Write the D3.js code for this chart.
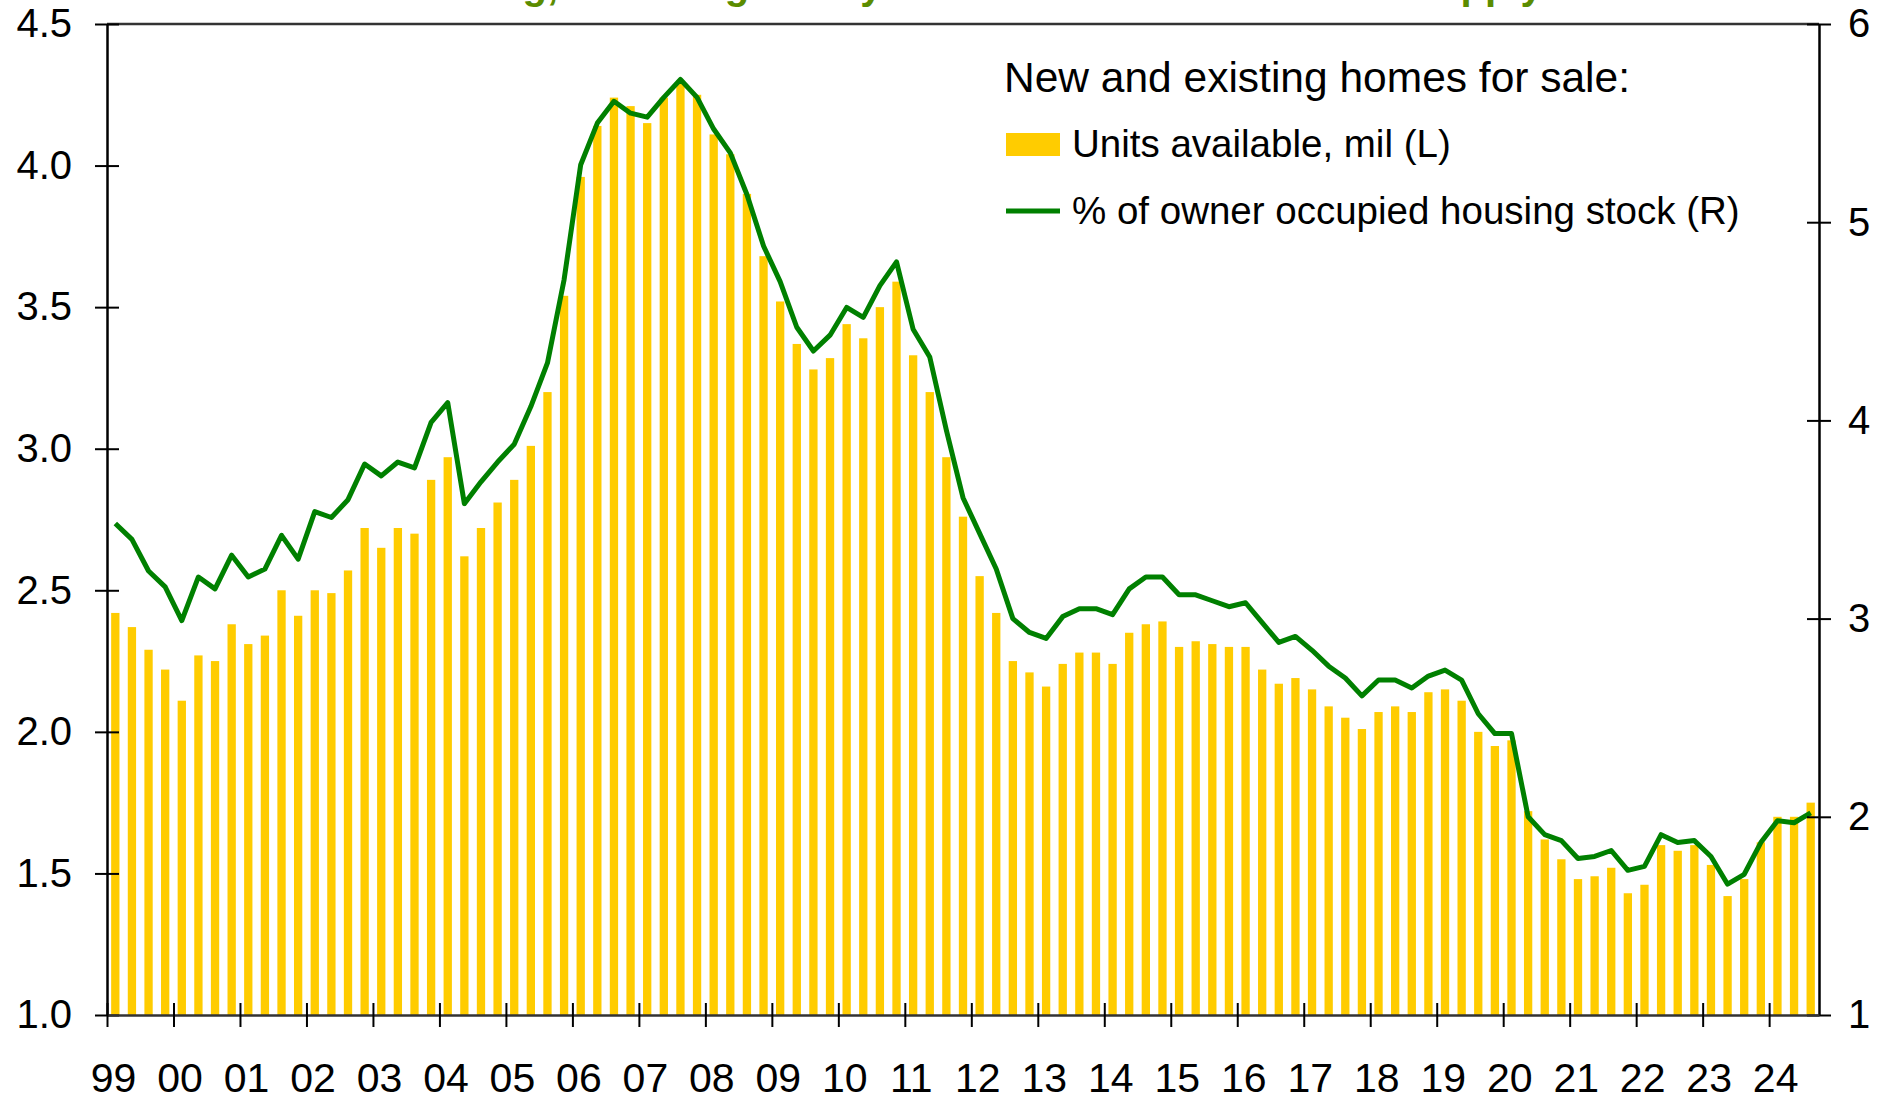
<!DOCTYPE html>
<html>
<head>
<meta charset="utf-8">
<script src="https://cdn.jsdelivr.net/npm/d3@7/dist/d3.min.js"></script>
<style>
  body { margin: 0; background: #fff; }
  text { font-family: "Liberation Sans", Arial, sans-serif; }
</style>
</head>
<body>
<div id="chart"></div>
<script>
// quarterly, 1999Q1 .. 2024Q3
var firstYear = 1999;
var yearLabels = ["99","00","01","02","03","04","05","06","07","08","09","10","11","12",
                  "13","14","15","16","17","18","19","20","21","22","23","24"];

// units available, mil (left axis)
var units = [
  2.42, 2.37, 2.29, 2.22, 2.11, 2.27, 2.25, 2.38, 2.31, 2.34, 2.50, 2.41, 2.50,
  2.49, 2.57, 2.72, 2.65, 2.72, 2.70, 2.89, 2.97, 2.62, 2.72, 2.81, 2.89, 3.01,
  3.20, 3.54, 3.96, 4.14, 4.24, 4.21, 4.15, 4.24, 4.30, 4.25, 4.11, 4.04, 3.90,
  3.68, 3.52, 3.37, 3.28, 3.32, 3.44, 3.39, 3.50, 3.59, 3.33, 3.20, 2.97, 2.76,
  2.55, 2.42, 2.25, 2.21, 2.16, 2.24, 2.28, 2.28, 2.24, 2.35, 2.38, 2.39, 2.30,
  2.32, 2.31, 2.30, 2.30, 2.22, 2.17, 2.19, 2.15, 2.09, 2.05, 2.01, 2.07, 2.09,
  2.07, 2.14, 2.15, 2.11, 2.00, 1.95, 1.97, 1.72, 1.62, 1.55, 1.48, 1.49, 1.52,
  1.43, 1.46, 1.60, 1.58, 1.60, 1.53, 1.42, 1.48, 1.61, 1.70, 1.70, 1.75
];

// % of owner occupied housing stock (right axis)
var share = [
  3.48, 3.40, 3.24, 3.16, 2.99, 3.21, 3.15, 3.32, 3.21, 3.25, 3.42, 3.30, 3.54,
  3.51, 3.60, 3.78, 3.72, 3.79, 3.76, 3.99, 4.09, 3.58, 3.69, 3.79, 3.88, 4.07,
  4.29, 4.71, 5.29, 5.50, 5.61, 5.55, 5.53, 5.63, 5.72, 5.63, 5.47, 5.35, 5.14,
  4.88, 4.70, 4.47, 4.35, 4.43, 4.57, 4.52, 4.68, 4.80, 4.46, 4.32, 3.95, 3.61,
  3.43, 3.25, 3.00, 2.93, 2.90, 3.01, 3.05, 3.05, 3.02, 3.15, 3.21, 3.21, 3.12,
  3.12, 3.09, 3.06, 3.08, 2.98, 2.88, 2.91, 2.84, 2.76, 2.70, 2.61, 2.69, 2.69,
  2.65, 2.71, 2.74, 2.69, 2.52, 2.42, 2.42, 2.00, 1.91, 1.88, 1.79, 1.80, 1.83,
  1.73, 1.75, 1.91, 1.87, 1.88, 1.80, 1.66, 1.71, 1.87, 1.98, 1.97, 2.02
];

var leftTicks = [1.0, 1.5, 2.0, 2.5, 3.0, 3.5, 4.0, 4.5];
var rightTicks = [1, 2, 3, 4, 5, 6];

var titleText = "Housing, shrinking slowly amid the lack of new home supply";
var legendTitle = "New and existing homes for sale:";
var legendLabels = ["Units available, mil (L)", "% of owner occupied housing stock (R)"];

var barColor = "#ffcc00",
    lineColor = "#008000";

var width = 1883, height = 1094;
var margin = {top: 24, right: 64, bottom: 79, left: 107};
var plotW = width - margin.left - margin.right,
    plotH = height - margin.top - margin.bottom;

var svg = d3.select("#chart").append("svg")
    .attr("width", width)
    .attr("height", height);

// title, mostly cut off above the picture (only descenders show)
svg.append("text")
    .attr("x", 387)
    .attr("y", -1)
    .attr("font-size", 40)
    .attr("font-weight", "bold")
    .attr("fill", "#5b8c00")
    .text(titleText);

var g = svg.append("g")
    .attr("transform", "translate(" + margin.left + "," + margin.top + ")");

// scales
var x = d3.scaleBand()
    .domain(d3.range(units.length))
    .range([0, plotW])
    .paddingInner(0.5)
    .paddingOuter(0.25);

var xYear = d3.scaleLinear()
    .domain([firstYear, firstYear + units.length / 4])
    .range([0, plotW]);

var yLeft = d3.scaleLinear().domain([1, 4.5]).range([plotH, 0]);
var yRight = d3.scaleLinear().domain([1, 6]).range([plotH, 0]);

// bars
g.selectAll("rect.bar")
    .data(units)
    .enter()
    .append("rect")
    .attr("class", "bar")
    .attr("x", function(d, i) { return x(i); })
    .attr("width", x.bandwidth())
    .attr("y", function(d) { return yLeft(d); })
    .attr("height", function(d) { return plotH - yLeft(d); })
    .attr("fill", barColor);

// line
var line = d3.line()
    .x(function(d, i) { return x(i) + x.bandwidth() / 2; })
    .y(function(d) { return yRight(d); });

g.append("path")
    .datum(share)
    .attr("d", line)
    .attr("fill", "none")
    .attr("stroke", lineColor)
    .attr("stroke-width", 5)
    .attr("stroke-linejoin", "round");

// top frame line
g.append("line")
    .attr("x1", 0).attr("x2", plotW)
    .attr("y1", 0).attr("y2", 0)
    .attr("stroke", "#333")
    .attr("stroke-width", 2.5);

// axes
var tickLen = 12;

var leftAxis = d3.axisLeft(yLeft)
    .tickValues(leftTicks)
    .tickFormat(d3.format(".1f"))
    .tickSizeInner(tickLen)
    .tickSizeOuter(0)
    .tickPadding(23);

var rightAxis = d3.axisRight(yRight)
    .tickValues(rightTicks)
    .tickFormat(d3.format("d"))
    .tickSizeInner(tickLen)
    .tickSizeOuter(0)
    .tickPadding(17);

var bottomAxis = d3.axisBottom(xYear)
    .tickValues(d3.range(firstYear, firstYear + yearLabels.length))
    .tickFormat(function(d, i) { return yearLabels[i]; })
    .tickSizeInner(tickLen)
    .tickSizeOuter(0)
    .tickPadding(36);

var gl = g.append("g").call(leftAxis);
gl.selectAll(".tick line").attr("x1", tickLen);

var gr = g.append("g").attr("transform", "translate(" + plotW + ",0)").call(rightAxis);
gr.selectAll(".tick line").attr("x1", -tickLen);

var gb = g.append("g").attr("transform", "translate(0," + plotH + ")").call(bottomAxis);
gb.selectAll(".tick line").attr("y1", -tickLen);

[gl, gr, gb].forEach(function(ax) {
    ax.selectAll("text")
        .attr("font-size", 40)
        .attr("font-family", "'Liberation Sans', Arial, sans-serif")
        .attr("fill", "#000");
    ax.selectAll(".tick line").attr("stroke", "#000").attr("stroke-width", 2);
    ax.select(".domain").attr("stroke", "#000").attr("stroke-width", 2.5);
});
gb.select(".domain").attr("stroke", "#333");
gb.selectAll(".tick text").attr("dx", 6).attr("font-size", 41);

// legend
var legend = svg.append("g").attr("transform", "translate(1004,0)");

legend.append("text")
    .attr("x", 0)
    .attr("y", 77)
    .attr("dy", "0.35em")
    .attr("font-size", 42.5)
    .text(legendTitle);

var items = legend.selectAll("g.item")
    .data(legendLabels)
    .enter()
    .append("g")
    .attr("class", "item")
    .attr("transform", function(d, i) { return "translate(0," + (144 + i * 67) + ")"; });

items.each(function(d, i) {
    var it = d3.select(this);
    if (i === 0) {
        it.append("rect")
            .attr("x", 2).attr("y", -11)
            .attr("width", 54).attr("height", 23)
            .attr("fill", barColor);
    } else {
        it.append("line")
            .attr("x1", 2).attr("x2", 56)
            .attr("y1", 0).attr("y2", 0)
            .attr("stroke", lineColor)
            .attr("stroke-width", 5);
    }
});

items.append("text")
    .attr("x", 68)
    .attr("y", 0)
    .attr("dy", "0.35em")
    .attr("font-size", 38.5)
    .text(function(d) { return d; });
</script>
</body>
</html>
